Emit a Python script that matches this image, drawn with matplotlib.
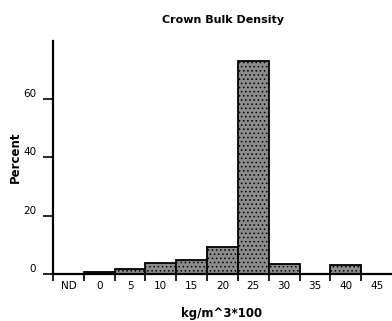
import numpy as np
import matplotlib.pyplot as plt

plt.rcParams['font.family'] = ['DejaVu Sans']
plt.rcParams['hatch.color'] = '#707070'
plt.rcParams['hatch.linewidth'] = 0.6

bins = ["ND", "0", "5", "10", "15", "20", "25", "30", "35", "40", "45"]
percent = [0, 0.6, 1.7, 3.8, 4.8, 9.3, 72.9, 3.3, 0, 3.0, 0]
yticks = [0, 20, 40, 60]

W, H = 392, 321
fig = plt.figure(figsize=(W / 100, H / 100), dpi=100)
ax = fig.add_axes([53 / W, 47 / H, 1 - 53 / W, (274 - 41) / H])

x = np.arange(len(bins))
ax.bar(x, percent, width=1.0, color="#8c8c8c", edgecolor="black",
       linewidth=1.3, hatch="....", zorder=2)

ax.set_xlim(-0.5, len(bins) - 0.5)
ax.set_ylim(0, 79.7)

for s in ["top", "right"]:
    ax.spines[s].set_visible(False)
for s in ["left", "bottom"]:
    ax.spines[s].set_linewidth(1.6)

# bin edges get the tick marks, labels sit in the middle of each bin
ax.set_xticks(np.arange(len(bins)) - 0.5)
ax.set_xticklabels([])
ax.set_xticks(x, minor=True)
ax.set_xticklabels(bins, minor=True, fontsize=7.5)
ax.tick_params(axis="x", which="major", length=5, width=1.2, direction="out")
ax.tick_params(axis="x", which="minor", length=0, pad=5)

ax.set_yticks(yticks)
ax.set_yticklabels([str(v) for v in yticks], fontsize=7.5, va="bottom")
ax.tick_params(axis="y", length=7, width=1.2, pad=5)

ax.set_title("Crown Bulk Density", fontsize=8, fontweight="bold", pad=13)
ax.set_xlabel("kg/m^3*100", fontsize=8.5, fontweight="bold", va="center")
ax.set_ylabel("Percent", fontsize=8.5, fontweight="bold", va="center")
ax.xaxis.set_label_coords((222 - 53) / 339, -(313 - 274) / 233)
ax.yaxis.set_label_coords(-(53 - 15) / 339, 0.5)

fig.savefig("out.png", dpi=100)
